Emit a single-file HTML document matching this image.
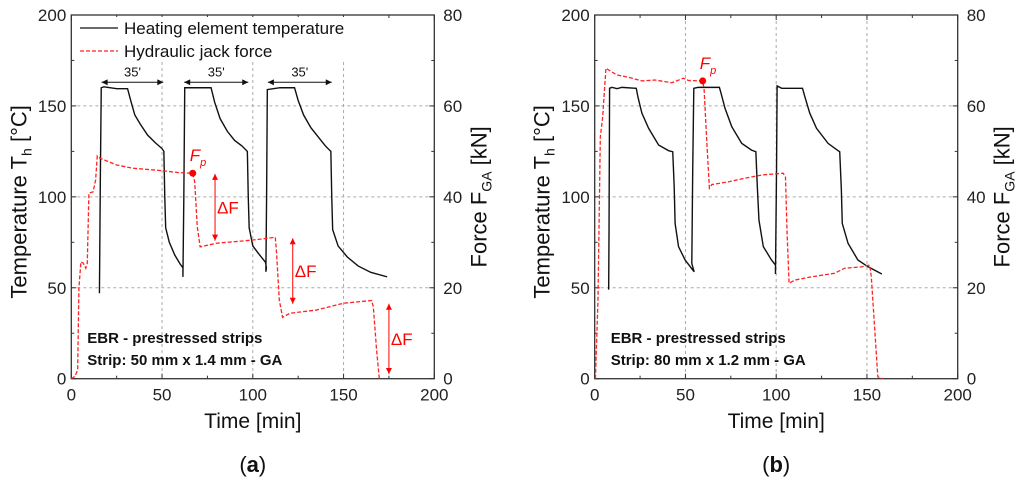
<!DOCTYPE html>
<html><head><meta charset="utf-8"><style>
body{margin:0;background:#fff}
svg text{font-family:"Liberation Sans",sans-serif}
</style></head><body>
<svg id="s" width="1024" height="491" xmlns="http://www.w3.org/2000/svg"></svg>
<script>
const xTicks=[0,50,100,150,200];
const tTicks=[0,50,100,150,200];
const fTicks=[0,20,40,60,80];
const tempA=[[15.5,47],[16,110],[16.5,160],[18,160.5],[25,159.5],[31,159.5],[33,152],[35,145],[38,140],[42,134],[46,130],[50,126.5],[51,125],[51.5,100],[52,83],[54,75],[57,68],[60,63],[61.5,61],[61.5,56],[62,100],[62.5,160],[70,160],[77,160],[79,152],[82,143],[86,136],[90,131],[94,128],[97,125],[97.5,100],[98,83],[100,73],[103,69],[107,64],[107.5,61],[107.2,58.8],[107.6,100],[108,159],[115,160],[123,160],[125,153],[128,145],[132,138],[136,133],[140,128],[143,125],[143.5,100],[144,82],[147,73],[152,67],[158,62],[165,58.5],[174,56]];
const forceA=[[0,0],[2,0.5],[3.5,1.9],[4.2,20],[5.3,25.7],[6.6,25.4],[8,24.3],[8.8,25.4],[9.7,40.8],[12,41.1],[13.4,43.7],[14.3,49],[15.8,48.5],[25,47],[34,46.3],[49,45.8],[60,45.3],[66.9,45.2],[68,43.3],[69.4,33.4],[71,29],[80,29.8],[89,30.1],[100,30.5],[112.4,31.1],[113.1,27.6],[114.6,17.3],[116.4,13.5],[120.5,14.4],[135,15.1],[150,16.6],[165.5,17.2],[166.4,15.8],[168.2,6.3],[169.7,0]];
const tempB=[[7.7,49],[7.9,82.7],[8.2,159.7],[9.5,160.2],[12.3,159.5],[15,160.2],[22.9,159.7],[23.8,155],[26,146],[29.7,137.7],[35.2,128.5],[40.7,125.4],[43,124.8],[43.8,105.6],[44.3,85.4],[46.2,72.6],[49.8,65.3],[54.8,58.8],[53.5,63.4],[54,114.7],[54.6,159.7],[57,160.2],[68.7,160.2],[69.6,157],[71.8,148.7],[75.5,138.6],[81,129.4],[86.4,125.7],[88.8,124.8],[89.6,105.6],[90.5,87.2],[92.9,72.6],[97.4,65.3],[99.6,62.5],[99.6,57.6],[100.2,116.6],[100.5,161],[103,159.7],[114.5,159.7],[115.8,155],[118.5,146],[122.2,137.7],[128.6,129.4],[134.1,125.4],[135,124.8],[135.9,103.8],[136.4,85.4],[139.6,74.4],[145,65.3],[150.5,61.6],[158.2,57.6]];
const forceB=[[0.4,0],[1.8,17.3],[3.1,53.2],[4.4,57.6],[6.2,68.3],[7.7,67.9],[12.3,66.8],[18.7,66.3],[26,65.5],[33.3,65.7],[42.5,65.1],[48.9,66.1],[51.6,65.6],[59.5,65.5],[60.3,63.5],[61.7,52.5],[63.2,41.9],[64.5,42.7],[73.6,43.3],[82.8,44.1],[91.9,44.8],[103.8,45.2],[105.1,44.4],[106,32],[107.1,21],[110.3,21.7],[119.4,22.4],[132.2,23.2],[137.7,24.3],[146.9,24.6],[151.5,25],[152.4,22.4],[156,0.4],[158.8,0]];
const fpA=[66.9,45.2], fpB=[59.5,65.5];
const spanA=[[16.7,50.7],[62.2,97.5],[108.3,143.5]];
const dfA=[[79.2,112.6,75.9],[122,77.2,41.2],[175,41.2,2.6]];

const S=document.getElementById('s');const NS='http://www.w3.org/2000/svg';
function el(t,a,p){const e=document.createElementNS(NS,t);for(const k in a)e.setAttribute(k,a[k]);(p||S).appendChild(e);return e;}
function chart(id,x0,data){
 const X0=x0,X1=x0+363,Y0=378.7,Y1=15;
 const g=el('g',{});
 
 
 const sx=v=>X0+(X1-X0)*v/200, st=v=>Y0-(Y0-Y1)*v/200, sf=v=>Y0-(Y0-Y1)*v/80;
 [50,100,150].forEach(v=>{
  const a=el('line',{x1:sx(v),x2:sx(v),y1:id=='a'?62:Y1,y2:Y0,stroke:'#aaa','stroke-dasharray':'3,3','stroke-width':1},g);
  
  const b=el('line',{x1:X0,x2:X1,y1:st(v),y2:st(v),stroke:'#aaa','stroke-dasharray':'3,3','stroke-width':1},g);
  
 });
 for(let v=0;v<=200;v+=25){
  const l=v%50?3:5;
  el('line',{x1:sx(v),x2:sx(v),y1:Y0,y2:Y0-l,stroke:'#333'},g);
  el('line',{x1:sx(v),x2:sx(v),y1:Y1,y2:Y1+l,stroke:'#333'},g);
  el('line',{x1:X0,x2:X0+l,y1:st(v),y2:st(v),stroke:'#333'},g);
  el('line',{x1:X1,x2:X1-l,y1:st(v),y2:st(v),stroke:'#333'},g);
 }
 const fr=el('rect',{x:X0,y:Y1,width:X1-X0,height:Y0-Y1,fill:'none',stroke:'#333','stroke-width':1.3},g);
 
 xTicks.forEach(v=>{const t=el('text',{x:sx(v),y:Y0+22,'font-size':17,'text-anchor':'middle',fill:'#222'},g);t.textContent=v;});
 tTicks.forEach(v=>{const t=el('text',{x:X0-5,y:st(v)+6,'font-size':17,'text-anchor':'end',fill:'#222'},g);t.textContent=v;});
 fTicks.forEach(v=>{const t=el('text',{x:X1+9,y:sf(v)+6,'font-size':17,fill:'#222'},g);t.textContent=v;});
 const cx=(X0+X1)/2;
 let t=el('text',{x:cx,y:428,'font-size':21,'text-anchor':'middle',fill:'#111'},g);t.textContent='Time [min]';
 
 t=el('text',{x:cx,y:472,'font-size':22,'text-anchor':'middle','font-family':'Liberation Serif',fill:'#111'},g);
 t.innerHTML='(<tspan font-weight="bold">'+id+'</tspan>)';
 
 t=el('text',{transform:`translate(${X0-45},${(Y0+Y1)/2+5}) rotate(-90)`,'font-size':22,'text-anchor':'middle',fill:'#111'},g);
 t.innerHTML='Temperature T<tspan font-size="14" dy="5">h</tspan><tspan dy="-5"> [°C]</tspan>';
 
 t=el('text',{transform:`translate(${X1+52},${(Y0+Y1)/2}) rotate(-90)`,'font-size':22,'text-anchor':'middle',fill:'#111'},g);
 t.innerHTML='Force F<tspan font-size="14" dy="5">GA</tspan><tspan dy="-5"> [kN]</tspan>';
 
 let p=el('polyline',{points:data.t.map(d=>sx(d[0])+','+st(d[1])).join(' '),fill:'none',stroke:'#111','stroke-width':1.4},g);
 
 p=el('polyline',{points:data.f.map(d=>sx(d[0])+','+sf(d[1])).join(' '),fill:'none',stroke:'#f22','stroke-width':1.3,'stroke-dasharray':'4,2'},g);
 
 const c=el('circle',{cx:sx(data.fp[0]),cy:sf(data.fp[1]),r:3.5,fill:'#f00'},g);
 
 t=el('text',{x:sx(data.fp[0])-3,y:sf(data.fp[1])-12,'font-size':17,'font-style':'italic',fill:'#f00'},g);
 t.innerHTML='F<tspan font-size="11" dy="5">p</tspan>';
 
 t=el('text',{x:X0+16,y:343,'font-size':15,'font-weight':'bold',fill:'#111'},g);t.textContent='EBR - prestressed strips';
 
 t=el('text',{x:X0+16,y:365,'font-size':15,'font-weight':'bold',fill:'#111'},g);t.textContent=data.strip;
 
 return {g,sx,st,sf,X0};
}
const A=chart('a',71.3,{t:tempA,f:forceA,fp:fpA,strip:'Strip: 50 mm x 1.4 mm - GA'});
chart('b',594.7,{t:tempB,f:forceB,fp:fpB,strip:'Strip: 80 mm x 1.2 mm - GA'});
const lg=el('g',{});
el('rect',{x:78,y:17,width:280,height:44,fill:'#fff'},lg);
el('line',{x1:80,x2:118,y1:28,y2:28,stroke:'#111','stroke-width':1.3},lg);
el('line',{x1:80,x2:118,y1:51,y2:51,stroke:'#f22','stroke-width':1.3,'stroke-dasharray':'4,2'},lg);
let t=el('text',{x:124,y:34,'font-size':17,fill:'#111'},lg);t.textContent='Heating element temperature';

t=el('text',{x:124,y:57,'font-size':17,fill:'#111'},lg);t.textContent='Hydraulic jack force';

el('defs',{}).innerHTML='<marker id="ab" viewBox="0 0 10 10" refX="10" refY="5" markerWidth="7" markerHeight="6" orient="auto-start-reverse"><path d="M0,0L10,5L0,10z" fill="#111"/></marker><marker id="ar" viewBox="0 0 10 10" refX="10" refY="5" markerWidth="7" markerHeight="6" orient="auto-start-reverse"><path d="M0,0L10,5L0,10z" fill="#f00"/></marker>';
spanA.forEach(s=>{
 const y=A.st(163);
 const l=el('line',{x1:A.sx(s[0]),x2:A.sx(s[1]),y1:y,y2:y,stroke:'#111','stroke-width':1,'marker-start':'url(#ab)','marker-end':'url(#ab)'},A.g);
 
 const tx=el('text',{x:(A.sx(s[0])+A.sx(s[1]))/2,y:y-6,'font-size':13,'text-anchor':'middle',fill:'#111'},A.g);tx.textContent="35'";
 
});
dfA.forEach(d=>{
 const l=el('line',{x1:A.sx(d[0]),x2:A.sx(d[0]),y1:A.st(d[1]),y2:A.st(d[2]),stroke:'#f00','stroke-width':1,'marker-start':'url(#ar)','marker-end':'url(#ar)'},A.g);
 
 const tx=el('text',{x:A.sx(d[0])+2,y:(A.st(d[1])+A.st(d[2]))/2+6,'font-size':17,fill:'#f00'},A.g);tx.textContent='ΔF';
 
});
</script>
</body></html>
